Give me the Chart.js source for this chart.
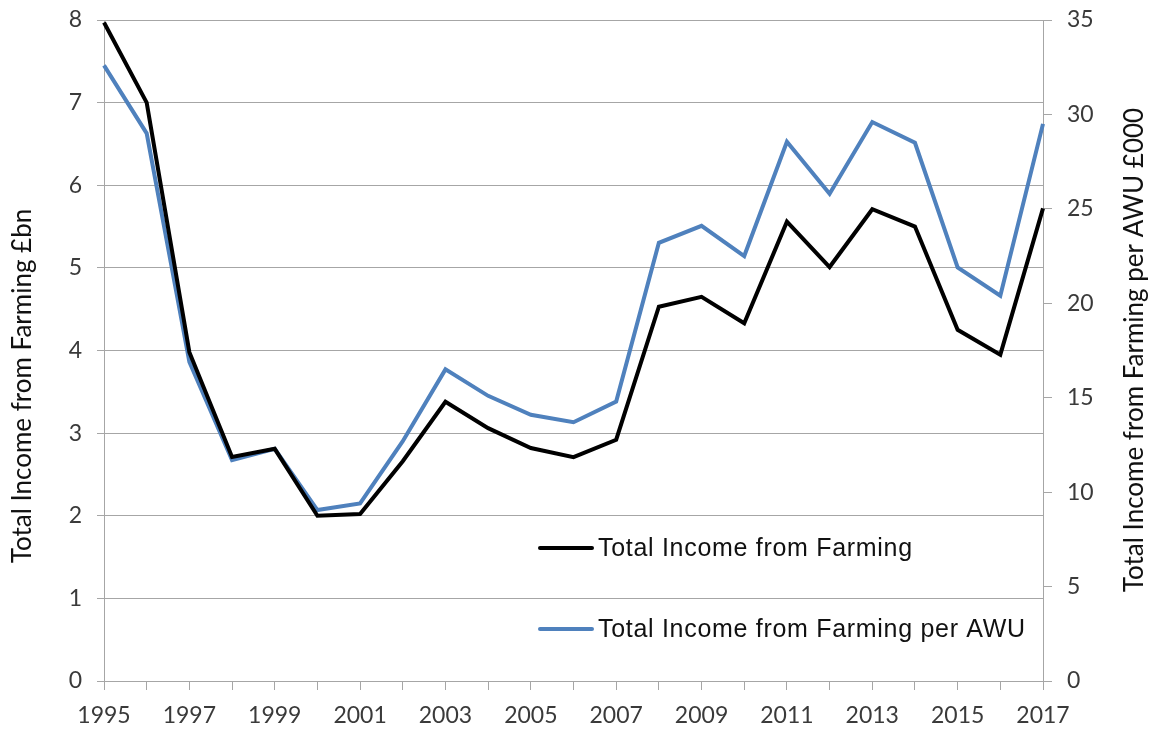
<!DOCTYPE html>
<html>
<head>
<meta charset="utf-8">
<script src="https://cdn.jsdelivr.net/npm/chart.js@4/dist/chart.umd.min.js"></script>
<style>
  html, body { margin: 0; padding: 0; background: #fff; }
  #wrap { width: 1156px; height: 729px; position: relative; }
</style>
</head>
<body>
<div id="wrap"><canvas id="chart" width="1156" height="729"></canvas></div>
<script>
// anos (categorias)
const years = ["1995","1996","1997","1998","1999","2000","2001","2002","2003","2004","2005",
  "2006","2007","2008","2009","2010","2011","2012","2013","2014","2015","2016","2017"];

// Total Income from Farming, £bn (eixo esquerdo)
const tiff = [7.97, 7.0, 3.98, 2.71, 2.81, 2.0, 2.02, 2.66, 3.38, 3.06, 2.82,
  2.71, 2.92, 4.53, 4.65, 4.33, 5.56, 5.01, 5.71, 5.5, 4.25, 3.95, 5.72];

// Total Income from Farming per AWU, £000 (eixo direito)
const tiffAwu = [32.6, 29.0, 16.9, 11.7, 12.3, 9.05, 9.4, 12.7, 16.5, 15.1, 14.1,
  13.7, 14.8, 23.2, 24.1, 22.5, 28.55, 25.8, 29.6, 28.5, 21.9, 20.4, 29.5];

const leftTitle = "Total Income from Farming £bn";
const rightTitle = "Total Income from Farming per AWU £000";

const FONT = "Lato";
const TXT = "#3a3a3a";
const GRID = "#a6a6a6";

// legenda dentro da área do gráfico + títulos dos eixos (lidos de baixo p/ cima)
const extras = {
  id: "extras",
  afterDraw(chart) {
    const ctx = chart.ctx;
    ctx.save();
    ctx.font = "25px 'Liberation Sans'";
    ctx.letterSpacing = "0.7px";
    ctx.textBaseline = "middle";
    ctx.textAlign = "left";
    const rows = [548, 629];
    chart.data.datasets.forEach((ds, i) => {
      ctx.strokeStyle = ds.borderColor;
      ctx.lineWidth = 4;
      ctx.lineCap = "round";
      ctx.beginPath();
      ctx.moveTo(540, rows[i]);
      ctx.lineTo(592, rows[i]);
      ctx.stroke();
      ctx.fillStyle = "#111";
      ctx.fillText(ds.label, 598, rows[i] + 1);
    });
    ctx.restore();

    function vtitle(text, x, y) {
      ctx.save();
      ctx.font = "26px " + FONT;
      ctx.fillStyle = "#111";
      ctx.textAlign = "center";
      ctx.textBaseline = "middle";
      ctx.translate(x, y);
      ctx.rotate(-Math.PI / 2);
      ctx.fillText(text, 0, 0);
      ctx.restore();
    }
    vtitle(leftTitle, 23, 386);
    vtitle(rightTitle, 1135, 350);
  }
};

function carregarGrafico() {
  const ctx = document.getElementById("chart").getContext("2d");
  new Chart(ctx, {
    type: "line",
    data: {
      labels: years,
      datasets: [{
        label: "Total Income from Farming",
        data: tiff,
        yAxisID: "y",
        borderColor: "#000000",
        borderWidth: 4,
        pointRadius: 0,
        tension: 0
      }, {
        label: "Total Income from Farming per AWU",
        data: tiffAwu,
        yAxisID: "y2",
        borderColor: "#4f81bd",
        borderWidth: 4,
        pointRadius: 0,
        tension: 0
      }]
    },
    options: {
      responsive: false,
      animation: false,
      layout: { padding: { top: 20, left: 0, right: 0, bottom: 0 } },
      plugins: {
        legend: { display: false },
        tooltip: { enabled: false }
      },
      scales: {
        x: {
          offset: false,
          grid: { drawOnChartArea: false, color: GRID, tickLength: 9 },
          border: { color: GRID },
          ticks: {
            autoSkip: false,
            maxRotation: 0,
            padding: 12,
            color: TXT,
            font: { family: FONT, size: 23 },
            callback: (v, i) => (i % 2 === 0 ? years[i] : "")
          },
          afterFit: s => { s.height = 48; s.paddingLeft = 0; s.paddingRight = 0; }
        },
        y: {
          position: "left",
          min: 0, max: 8,
          grid: { color: GRID, tickLength: 7 },
          border: { color: GRID },
          ticks: { stepSize: 1, padding: 15, color: TXT, font: { family: FONT, size: 23 } },
          afterFit: s => { s.width = 104; s.paddingTop = 0; s.paddingBottom = 0; }
        },
        y2: {
          position: "right",
          min: 0, max: 35,
          grid: { drawOnChartArea: false, color: GRID, tickLength: 9 },
          border: { color: GRID },
          ticks: { stepSize: 5, padding: 15, color: TXT, font: { family: FONT, size: 23 } },
          afterFit: s => { s.width = 113; s.paddingTop = 0; s.paddingBottom = 0; }
        }
      }
    },
    plugins: [extras]
  });
}

document.addEventListener("DOMContentLoaded", carregarGrafico);
</script>
</body>
</html>
